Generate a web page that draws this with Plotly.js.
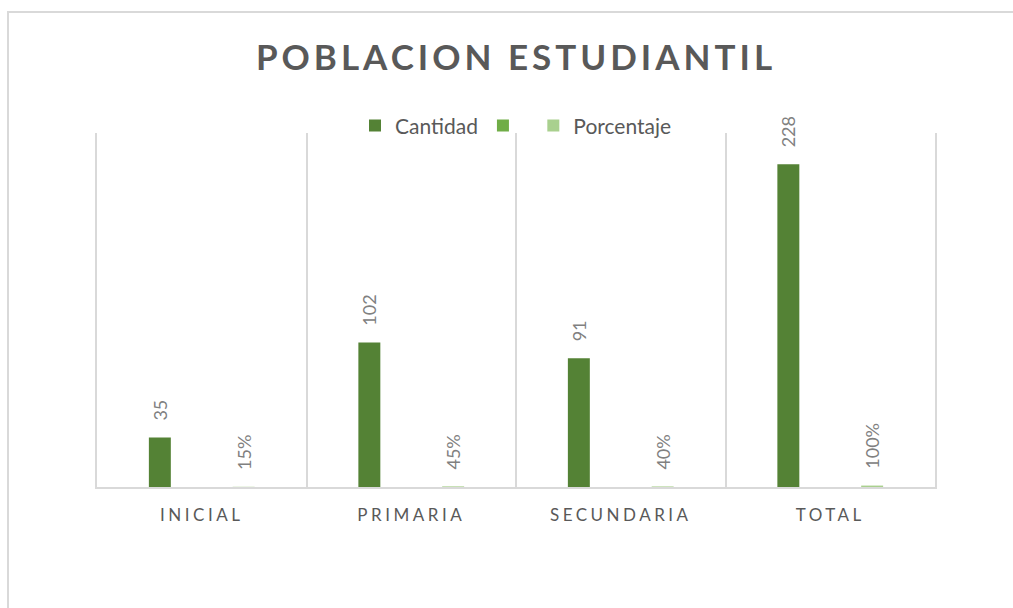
<!DOCTYPE html>
<html>
<head>
<meta charset="utf-8">
<script src="https://cdn.plot.ly/plotly-3.0.1.min.js"></script>
<style>
  html, body { margin: 0; padding: 0; background: #fff; }
  #wrap { position: relative; width: 1013px; height: 608px; overflow: hidden; }
  #chart { position: absolute; left: 0; top: 0; width: 1013px; height: 608px; }
  #frame { position: absolute; left: 7px; top: 11px; width: 1020px; height: 620px;
           border-left: 2px solid #d9d9d9; border-top: 2px solid #d9d9d9; pointer-events: none; }
  .xtick text { letter-spacing: 3.5px; }
  .gtitle { letter-spacing: 4px; }
</style>
</head>
<body>
<div id="wrap">
  <div id="chart"></div>
  <div id="frame"></div>
</div>
<script>
const categories = ["INICIAL", "PRIMARIA", "SECUNDARIA", "TOTAL"];
const cantidad = [35, 102, 91, 228];
const blankSeries = [null, null, null, null];
const porcentaje = [0.15, 0.45, 0.40, 1.00];

const FONT = "Lato, 'Open Sans', sans-serif";
const pad = "\u00a0\u00a0\u00a0";

const traces = [
  {
    type: "bar", name: "Cantidad", x: categories, y: cantidad,
    marker: { color: "#548235" },
    texttemplate: pad + "%{y}", textposition: "outside", textangle: -90,
    textfont: { family: FONT, size: 18, color: "#808080" },
    cliponaxis: false, hoverinfo: "x+y"
  },
  {
    type: "bar", name: " ", x: categories, y: blankSeries,
    marker: { color: "#70ad47" }, hoverinfo: "skip"
  },
  {
    type: "bar", name: "Porcentaje", x: categories, y: porcentaje,
    marker: { color: "#a9d08e" },
    texttemplate: pad + "%{y:.0%}", textposition: "outside", textangle: -90,
    textfont: { family: FONT, size: 18, color: "#808080" },
    cliponaxis: false, hoverinfo: "x+y"
  }
];
traces.forEach(t => { t.constraintext = "none"; });

const layout = {
  width: 1013, height: 608,
  margin: { l: 97, r: 78, t: 133, b: 121 },
  paper_bgcolor: "#ffffff", plot_bgcolor: "#ffffff",
  font: { family: FONT, color: "#595959" },
  title: {
    text: "<b>POBLACION ESTUDIANTIL</b>",
    font: { family: FONT, size: 35, color: "#595959" },
    x: 0.5, xref: "paper", xanchor: "center",
    y: 0.905, yref: "container", yanchor: "middle"
  },
  barmode: "group",
  bargap: 0.4,
  bargroupgap: 0.476,
  showlegend: true,
  legend: {
    orientation: "h", x: 0.5, xanchor: "center", y: 1.02, yanchor: "middle",
    font: { family: FONT, size: 21, color: "#595959" },
    itemwidth: 30, traceorder: "normal", bgcolor: "rgba(0,0,0,0)"
  },
  xaxis: {
    type: "category", range: [-0.5, 3.5],
    tickson: "boundaries", showgrid: true, gridcolor: "#d9d9d9", gridwidth: 2,
    showline: true, linecolor: "#d9d9d9", linewidth: 2,
    ticks: "", ticklabelstandoff: 12,
    tickfont: { family: FONT, size: 17, color: "#595959" },
    fixedrange: true
  },
  yaxis: {
    range: [0, 250], visible: true, showgrid: false, zeroline: false,
    showticklabels: false, ticks: "",
    showline: true, mirror: true, linecolor: "#d9d9d9", linewidth: 2,
    fixedrange: true
  }
};

Plotly.newPlot("chart", traces, layout, { displayModeBar: false, staticPlot: true });
</script>
</body>
</html>
